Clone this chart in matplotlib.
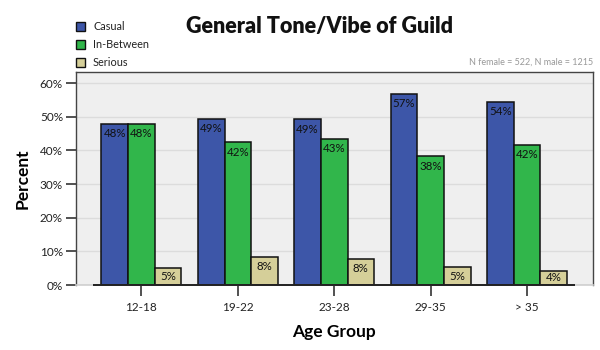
import matplotlib
matplotlib.use("Agg")
import matplotlib.pyplot as plt
import numpy as np
from matplotlib.patches import Rectangle
from matplotlib.ticker import FuncFormatter

plt.rcParams['font.family'] = ['Lato', 'DejaVu Sans']

age_groups = ["12-18", "19-22", "23-28", "29-35", "> 35"]
series_names = ["Casual", "In-Between", "Serious"]
casual = [47.9, 49.3, 49.2, 56.9, 54.5]
in_between = [47.9, 42.4, 43.4, 38.2, 41.7]
serious = [5.0, 8.4, 7.8, 5.3, 4.2]
yticks = [0, 10, 20, 30, 40, 50, 60]
note = "N female = 522, N male = 1215"
title = "General Tone/Vibe of Guild"

colors = ["#3d56a8", "#31b64b", "#d5cf99"]
series = [casual, in_between, serious]

fig = plt.figure(figsize=(6, 3.5), dpi=100)
ax = fig.add_axes([75.5 / 600, 1 - 285 / 350, (593 - 75.5) / 600, (285 - 72) / 350])
ax.set_facecolor("#efefef")

x = np.arange(len(age_groups))
width = 0.276
for i, (vals, col) in enumerate(zip(series, colors)):
    pos = x + (i - 1) * width
    bars = ax.bar(pos, vals, width=width, color=col, edgecolor="#111111",
                  linewidth=1.1, zorder=3)
    for b, v in zip(bars, vals):
        # label sits just under the bar top, or mid-bar when the bar is short
        ylab = max(v - 2.9, v / 2)
        ax.text(b.get_x() + b.get_width() / 2, ylab, f"{v:.0f}%",
                ha="center", va="center", fontsize=8.3, color="#111111", zorder=4)

ax.set_xlim(-0.683, 4.683)
ax.set_ylim(0, 63.3)
ax.set_yticks(yticks)
ax.yaxis.set_major_formatter(FuncFormatter(lambda v, p: f"{v:.0f}%"))
ax.set_xticks(x)
ax.set_xticklabels(age_groups)
ax.grid(axis="y", color="#dcdcdc", linewidth=1.0, zorder=0)
ax.set_axisbelow(True)

for s in ["left", "top", "right"]:
    ax.spines[s].set_color("#444444")
    ax.spines[s].set_linewidth(1.0)
ax.spines["bottom"].set_color("#cfcfcf")
ax.spines["bottom"].set_linewidth(1.2)
ax.plot([-0.5, 4.5], [0, 0], color="#222222", linewidth=1.4, zorder=5,
        clip_on=False, solid_capstyle="butt")

ax.tick_params(axis="y", length=7, width=1.2, color="#333333", labelsize=8.5,
               pad=2, labelcolor="#222222")
ax.tick_params(axis="x", length=8, width=1.2, color="#333333", labelsize=8.5,
               pad=4, labelcolor="#222222")

ax.set_ylabel("Percent", fontsize=12.5, fontweight="bold", labelpad=7)
ax.set_xlabel("Age Group", fontsize=12.5, fontweight="bold", labelpad=8)

fig.text(320 / 600, 1 - 26 / 350, title, ha="center", va="center",
         fontsize=15.5, fontweight="heavy", color="#111111")
fig.text(593 / 600, 1 - 62 / 350, note, ha="right", va="center",
         fontsize=6.5, color="#999999")

# legend drawn as small swatches in figure space
for i, (name, col) in enumerate(zip(series_names, colors)):
    yc = 26 + i * 18
    fig.patches.append(Rectangle((76 / 600, 1 - (yc + 4.5) / 350), 9 / 600, 9 / 350,
                                 transform=fig.transFigure, facecolor=col,
                                 edgecolor="#111111", linewidth=1.0))
    fig.text(93 / 600, 1 - yc / 350, name, ha="left", va="center",
             fontsize=7.8, color="#222222")

fig.savefig("out.png", dpi=100)
